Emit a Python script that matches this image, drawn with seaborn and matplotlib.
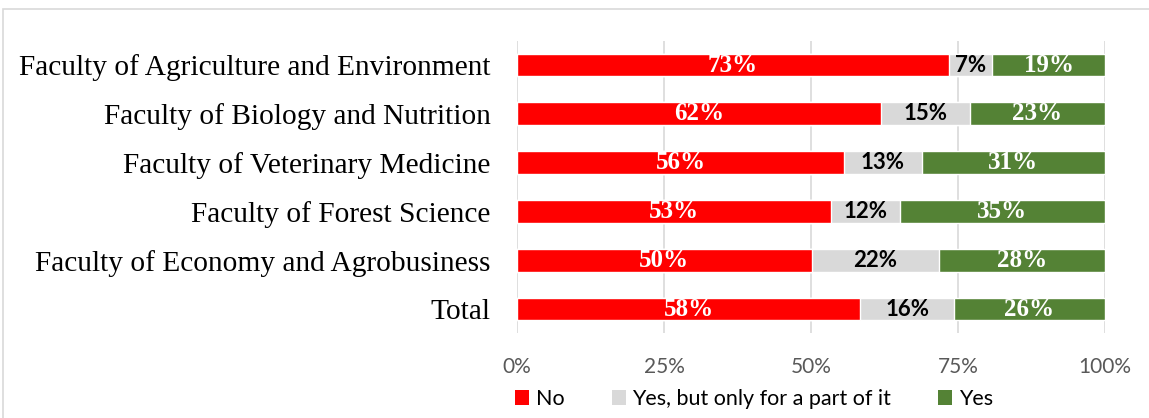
import matplotlib
matplotlib.use("Agg")
import matplotlib.pyplot as plt
import seaborn as sns
import pandas as pd
import numpy as np
from matplotlib.patches import Rectangle, Patch

categories = [
    "Faculty of Agriculture and Environment",
    "Faculty of Biology and Nutrition",
    "Faculty of Veterinary Medicine",
    "Faculty of Forest Science",
    "Faculty of Economy and Agrobusiness",
    "Total",
]
no_vals = [73.4, 61.9, 55.6, 53.4, 50.1, 58.4]
partial_vals = [7.4, 15.1, 13.2, 11.7, 21.6, 15.9]
yes_vals = [19.2, 23.0, 31.2, 34.9, 28.3, 25.7]
no_labels = ["73%", "62%", "56%", "53%", "50%", "58%"]
partial_labels = ["7%", "15%", "13%", "12%", "22%", "16%"]
yes_labels = ["19%", "23%", "31%", "35%", "28%", "26%"]
series_names = ["No", "Yes, but only for a part of it", "Yes"]
xticks = [0, 25, 50, 75, 100]
xtick_labels = ["0%", "25%", "50%", "75%", "100%"]

colors = ["#FF0000", "#D9D9D9", "#548235"]

sns.set_theme(style="white")

df = pd.DataFrame({
    "cat": categories,
    "no": no_vals,
    "partial": partial_vals,
    "yes": yes_vals,
})
df["c1"] = df["no"]
df["c2"] = df["no"] + df["partial"]
df["c3"] = df["no"] + df["partial"] + df["yes"]

fig = plt.figure(figsize=(11.49, 4.18), dpi=100)
ax = fig.add_axes([517 / 1149, 1 - 333.4 / 418, (1105 - 517) / 1149, (333.4 - 40.6) / 418])

bw = 0.47
sns.barplot(data=df, y="cat", x="c3", color=colors[2], orient="h", width=bw, ax=ax, saturation=1, zorder=3)
sns.barplot(data=df, y="cat", x="c2", color=colors[1], orient="h", width=bw, ax=ax, saturation=1, zorder=3)
sns.barplot(data=df, y="cat", x="c1", color=colors[0], orient="h", width=bw, ax=ax, saturation=1, zorder=3)

for i in range(len(categories)):
    ax.text(df["no"][i] / 2, i, no_labels[i], ha="center", va="center", color="white",
            fontsize=18, fontweight="bold", family="Liberation Serif", zorder=5)
    ax.text(df["c1"][i] + df["partial"][i] / 2, i, partial_labels[i], ha="center", va="center",
            color="black", fontsize=16, fontweight="bold", family="Lato", zorder=5)
    ax.text(df["c2"][i] + df["yes"][i] / 2, i, yes_labels[i], ha="center", va="center", color="white",
            fontsize=18, fontweight="bold", family="Liberation Serif", zorder=5)

ax.set_xlim(0, 100)
ax.set_ylim(5.5, -0.5)
ax.set_xticks(xticks)
ax.set_xticklabels(xtick_labels, family="Lato", fontsize=15, color="#595959")
ax.set_yticklabels(categories, family="Liberation Serif", fontsize=21.2, color="black")
ax.tick_params(axis="x", length=0, pad=17)
ax.tick_params(axis="y", length=0, pad=19)
ax.set_xlabel("")
ax.set_ylabel("")
for s in ax.spines.values():
    s.set_visible(False)
ax.grid(axis="x", color="#D9D9D9", linewidth=1.2, zorder=0)
ax.set_axisbelow(True)

handles = [Patch(facecolor=c, edgecolor="none") for c in colors]
leg = fig.legend(handles, series_names, loc="center", bbox_to_anchor=(754 / 1149, 1 - 399 / 418),
                 ncol=3, frameon=False, prop={"family": "Lato", "size": 15.5},
                 handlelength=0.65, handleheight=0.65, handletextpad=0.3, columnspacing=2.2)
for t in leg.get_texts():
    t.set_color("#000000")

fig.patches.append(Rectangle((3 / 1149, -0.1), 1.2, 1.1 - 9 / 418 + 0.0, transform=fig.transFigure,
                             fill=False, edgecolor="#D9D9D9", linewidth=1.2))

fig.savefig("out.png", dpi=100)
